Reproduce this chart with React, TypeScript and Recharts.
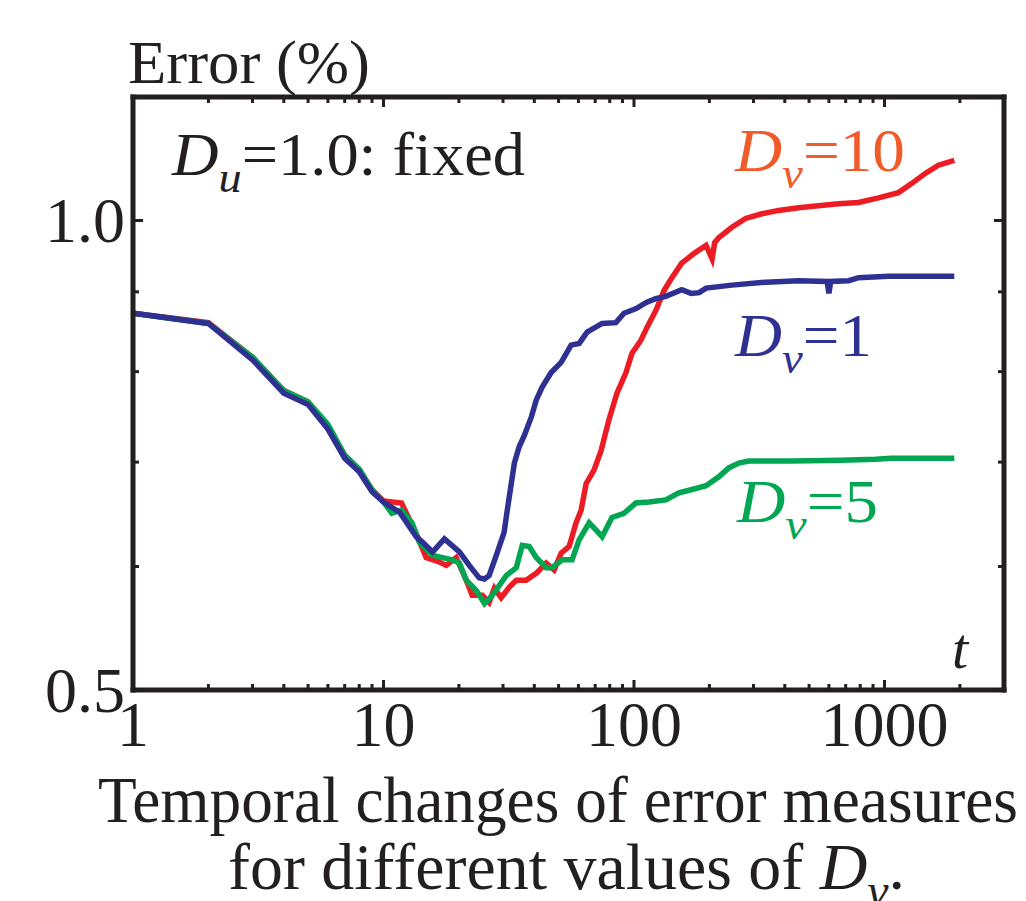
import { LineChart, Line, XAxis, YAxis } from 'recharts';

// [t, error %]
const dv10: [number, number][] = [
  [1, 0.872], [2, 0.86], [3, 0.817], [4, 0.778], [5, 0.765], [6, 0.738], [7, 0.707], [8, 0.692],
  [9, 0.672], [10, 0.661], [11.8, 0.659], [13.5, 0.63], [14.8, 0.608], [16.7, 0.604], [17.8, 0.601],
  [19.5, 0.608], [21.4, 0.588], [22.6, 0.575], [24.8, 0.575], [26.4, 0.569], [27.7, 0.581],
  [29.5, 0.573], [31.8, 0.582], [33.9, 0.588], [37.1, 0.588], [40.7, 0.594], [44.6, 0.603],
  [48, 0.597], [51.2, 0.612], [55.1, 0.618], [58.7, 0.64], [61.5, 0.652], [64.4, 0.678],
  [69.3, 0.692], [73.9, 0.712], [79.4, 0.745], [85.5, 0.775], [92.9, 0.799], [98.2, 0.822],
  [106.6, 0.838], [112.7, 0.854], [122.4, 0.876], [131.9, 0.902], [141.7, 0.919], [155, 0.939],
  [173, 0.952], [194, 0.964], [205, 0.945], [210, 0.968], [218, 0.975], [246, 0.99], [279, 1.003],
  [324, 1.01], [378, 1.015], [454, 1.019], [545, 1.022], [656, 1.025], [788, 1.027], [946, 1.034],
  [1137, 1.042], [1282, 1.056], [1455, 1.072], [1641, 1.085], [1900, 1.093],
];

const dv5: [number, number][] = [
  [1, 0.872], [2, 0.859], [3, 0.817], [4, 0.778], [5, 0.765], [6, 0.74], [7, 0.707], [8, 0.693],
  [9, 0.672], [10, 0.66], [10.8, 0.649], [11.8, 0.652], [13, 0.64], [13.9, 0.622], [15.7, 0.61],
  [18.8, 0.606], [20.1, 0.603], [21.4, 0.588], [23.5, 0.579], [25.3, 0.568], [27.2, 0.575],
  [30.9, 0.592], [33.9, 0.599], [35.8, 0.619], [38.2, 0.618], [40.7, 0.608], [44.6, 0.599],
  [47.1, 0.599], [51.7, 0.606], [56.6, 0.606], [60.4, 0.624], [66.2, 0.64], [70.6, 0.633],
  [74.6, 0.627], [81.7, 0.645], [91.2, 0.649], [101.8, 0.659], [114.8, 0.66], [134, 0.662],
  [151, 0.669], [169, 0.672], [194, 0.676], [218, 0.685], [239, 0.694], [262, 0.699], [287, 0.701],
  [426, 0.701], [674, 0.702], [920, 0.703], [1066, 0.704], [1900, 0.704],
];

const dv1: [number, number][] = [
  [1, 0.872], [2, 0.859], [3, 0.814], [4, 0.775], [5, 0.762], [6, 0.735], [7, 0.704], [8, 0.69],
  [9, 0.67], [10, 0.66], [11.6, 0.65], [13.5, 0.627], [14.3, 0.622], [15.7, 0.613], [17.5, 0.625],
  [20.1, 0.613], [22, 0.601], [24.1, 0.59], [25.3, 0.589], [26.4, 0.592], [28.2, 0.61],
  [30.3, 0.631], [31.2, 0.652], [33.3, 0.699], [34.8, 0.716], [36.5, 0.728], [38.9, 0.748],
  [40.7, 0.767], [43, 0.782], [46.7, 0.799], [51.2, 0.811], [56.1, 0.832], [60.4, 0.834],
  [65, 0.848], [74.6, 0.859], [84.7, 0.86], [91.2, 0.872], [102, 0.878], [112, 0.886], [122, 0.891],
  [134, 0.894], [155, 0.903], [169, 0.898], [182, 0.899], [194, 0.905], [246, 0.909], [336, 0.913],
  [454, 0.915], [590, 0.914], [600, 0.898], [610, 0.914], [719, 0.915], [788, 0.919], [1037, 0.921],
  [1404, 0.921], [1900, 0.921],
];

const xTicks = [1, 2, 3, 4, 5, 6, 7, 8, 9, 10, 20, 30, 40, 50, 60, 70, 80, 90, 100, 200, 300, 400, 500, 600, 700, 800, 900, 1000, 2000];
const xLabels = [1, 10, 100, 1000];
const yTicks = [0.5, 0.6, 0.7, 0.8, 0.9, 1.0];
const yLabels = [0.5, 1.0];

const INK = '#231f20';
const RED = '#ed1c24';
const GREEN = '#00a651';
const BLUE = '#2e3192';
const FONT = '"Liberation Serif", "Times New Roman", serif';

const toRows = (pts: [number, number][]) => pts.map(([t, e]) => ({ t, e }));

function BottomTick({ x, y, payload }: any) {
  const v = payload.value;
  const major = xLabels.includes(v);
  return (
    <g>
      <line x1={x} x2={x} y1={y} y2={y - (major ? 10 : 6)} stroke={INK} strokeWidth={3} />
      {major && (
        <text x={x} y={y + 56} textAnchor="middle" fontFamily={FONT} fontSize={64} fill={INK}>
          {v}
        </text>
      )}
    </g>
  );
}

function TopTick({ x, y, payload }: any) {
  const major = xLabels.includes(payload.value);
  return <line x1={x} x2={x} y1={y} y2={y + (major ? 10 : 6)} stroke={INK} strokeWidth={3} />;
}

function LeftTick({ x, y, payload }: any) {
  const v = payload.value;
  const major = yLabels.includes(v);
  return (
    <g>
      <line x1={x} x2={x + (major ? 10 : 6)} y1={y} y2={y} stroke={INK} strokeWidth={3} />
      {major && (
        <text x={x - 8} y={y + 22} textAnchor="end" fontFamily={FONT} fontSize={64} fill={INK}>
          {v.toFixed(1)}
        </text>
      )}
    </g>
  );
}

function RightTick({ x, y, payload }: any) {
  const major = yLabels.includes(payload.value);
  return <line x1={x} x2={x - (major ? 10 : 6)} y1={y} y2={y} stroke={INK} strokeWidth={3} />;
}

const frame = { stroke: INK, strokeWidth: 5, strokeLinecap: 'square' as const };

function Sub({ x, y, sub, rest, color, size, len }: any) {
  return (
    <text x={x} y={y} fontFamily={FONT} fontSize={size} fill={color} textLength={len} lengthAdjust="spacingAndGlyphs">
      <tspan fontStyle="italic">D</tspan>
      <tspan fontStyle="italic" fontSize={size * 0.72} dy={size * 0.27}>{sub}</tspan>
      <tspan dy={-size * 0.27}>{rest}</tspan>
    </text>
  );
}

export default function App() {
  return (
    <div style={{ position: 'absolute', left: 0, top: 0, width: 1026, height: 901, background: '#fff' }}>
      <LineChart
        width={1026}
        height={901}
        margin={{ top: 96, right: 21, bottom: 210, left: 132 }}
      >
        <XAxis
          dataKey="t"
          type="number"
          scale="log"
          domain={[1, 3000]}
          allowDataOverflow
          ticks={xTicks}
          interval={0}
          height={1}
          tickSize={0}
          tickMargin={0}
          tickLine={false}
          axisLine={frame}
          tick={<BottomTick />}
        />
        <XAxis
          xAxisId="top"
          dataKey="t"
          orientation="top"
          type="number"
          scale="log"
          domain={[1, 3000]}
          allowDataOverflow
          ticks={xTicks}
          interval={0}
          height={1}
          tickSize={0}
          tickMargin={0}
          tickLine={false}
          axisLine={frame}
          tick={<TopTick />}
        />
        <YAxis
          type="number"
          scale="log"
          domain={[0.5, 1.2]}
          allowDataOverflow
          ticks={yTicks}
          interval={0}
          width={1}
          tickSize={0}
          tickMargin={0}
          tickLine={false}
          axisLine={frame}
          tick={<LeftTick />}
        />
        <YAxis
          yAxisId="right"
          orientation="right"
          type="number"
          scale="log"
          domain={[0.5, 1.2]}
          allowDataOverflow
          ticks={yTicks}
          interval={0}
          width={1}
          tickSize={0}
          tickMargin={0}
          tickLine={false}
          axisLine={frame}
          tick={<RightTick />}
        />
        <Line data={toRows(dv10)} dataKey="e" stroke={RED} strokeWidth={5.5} dot={false} isAnimationActive={false} />
        <Line data={toRows(dv5)} dataKey="e" stroke={GREEN} strokeWidth={5.5} dot={false} isAnimationActive={false} />
        <Line data={toRows(dv1)} dataKey="e" stroke={BLUE} strokeWidth={5.5} dot={false} isAnimationActive={false} />
      </LineChart>

      <svg width={1026} height={901} style={{ position: 'absolute', left: 0, top: 0, pointerEvents: 'none' }}>
        <text x={128} y={83} fontFamily={FONT} fontSize={62} fill={INK} textLength={242} lengthAdjust="spacingAndGlyphs">
          Error (%)
        </text>
        <Sub x={172} y={175} sub="u" rest="=1.0: fixed" color={INK} size={62} len={353} />
        <Sub x={735} y={171} sub="ν" rest="=10" color="#f15a29" size={62} len={170} />
        <Sub x={735} y={356} sub="ν" rest="=1" color={BLUE} size={62} len={137} />
        <Sub x={737} y={522} sub="ν" rest="=5" color={GREEN} size={62} len={141} />
        <text x={952} y={668} fontFamily={FONT} fontSize={58} fontStyle="italic" fill={INK}>t</text>
        <text x={98} y={822} fontFamily={FONT} fontSize={66} fill={INK} textLength={920} lengthAdjust="spacingAndGlyphs">
          Temporal changes of error measures
        </text>
        <text x={228} y={889} fontFamily={FONT} fontSize={66} fill={INK} textLength={677} lengthAdjust="spacingAndGlyphs">
          for different values of <tspan fontStyle="italic">D</tspan>
          <tspan fontStyle="italic" fontSize={48} dy={18}>ν</tspan>
          <tspan dy={-18}>.</tspan>
        </text>
      </svg>
    </div>
  );
}
